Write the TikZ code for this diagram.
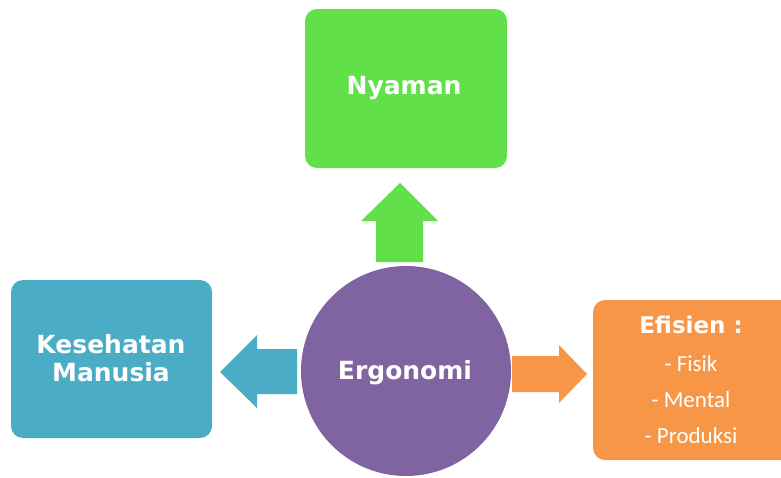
\documentclass[tikz,border=0pt]{standalone}
\usepackage{fontspec}
\setmainfont{DejaVu Sans}
\newfontfamily\listfont{Carlito}
\definecolor{cgreen}{HTML}{62E04A}
\definecolor{cblue}{HTML}{4BACC6}
\definecolor{cpurple}{HTML}{8064A2}
\definecolor{corange}{HTML}{F79646}
\begin{document}
\begin{tikzpicture}[x=1pt,y=-1pt,
  head/.style={font=\fontsize{25}{30}\selectfont\bfseries, text=white, align=center},
  item/.style={font=\listfont\fontsize{23}{26}\selectfont, text=white}]
\useasboundingbox (0,0) rectangle (781,477);
\begin{scope}
\clip (0,0) rectangle (781,477);
% boxes
\fill[cgreen, rounded corners=12pt] (305,9) rectangle (507,168);
\fill[cblue, rounded corners=12pt] (11,280) rectangle (212,438);
\fill[corange, rounded corners=12pt] (593,300) rectangle (795,460);
% arrows
\fill[cgreen] (376,262) -- (376,221) -- (361,221) -- (400,183) -- (438,221) -- (423,221) -- (423,262) -- cycle;
\fill[cblue] (297,349) -- (257,349) -- (257,335) -- (220,372) -- (257,408) -- (257,394) -- (297,394) -- cycle;
\fill[corange] (512,356) -- (559,356) -- (559,345) -- (587,374) -- (559,403) -- (559,392) -- (512,392) -- cycle;
% circle
\fill[cpurple] (406,371) circle[radius=105];
\end{scope}
\node[head] (nyaman) at (404,88) {Nyaman};
\node[head] (kes) at (111,358) {Kesehatan\\[-2pt]Manusia};
\node[head] (ergo) at (405,373) {Ergonomi};
\node[font=\fontsize{23}{26}\selectfont\bfseries, text=white] (efisien) at (691,325) {Efisien :};
\node[item] (fisik) at (691,364) {- Fisik};
\node[item] (mental) at (691,400) {- Mental};
\node[item] (produksi) at (691,436) {- Produksi};
\end{tikzpicture}
\end{document}
